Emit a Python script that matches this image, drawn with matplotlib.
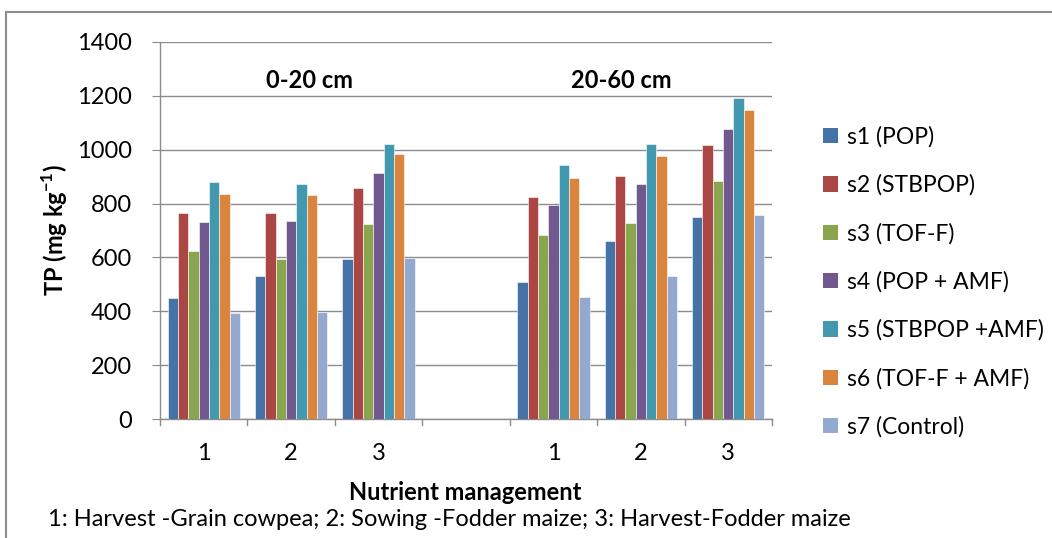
import numpy as np
import matplotlib.pyplot as plt
from matplotlib.lines import Line2D
from matplotlib.patches import Patch

plt.rcParams['font.family'] = ['Lato', 'DejaVu Sans']
plt.rcParams['mathtext.fontset'] = 'custom'
plt.rcParams['mathtext.rm'] = 'Lato'
plt.rcParams['mathtext.bf'] = 'Lato:bold'

# Category slots: three stages per depth, with one empty slot between depths
categories = ['1', '2', '3', '', '1', '2', '3']

series_names = ['s1 (POP)', 's2 (STBPOP)', 's3 (TOF-F)', 's4 (POP + AMF)',
                's5 (STBPOP +AMF)', 's6 (TOF-F + AMF)', 's7 (Control)']

s1 = [451, 532, 595, np.nan, 508, 661, 750]
s2 = [765, 765, 857, np.nan, 826, 903, 1017]
s3 = [624, 593, 724, np.nan, 682, 729, 883]
s4 = [731, 734, 912, np.nan, 793, 873, 1076]
s5 = [881, 872, 1023, np.nan, 945, 1020, 1191]
s6 = [835, 833, 985, np.nan, 896, 976, 1148]
s7 = [395, 399, 599, np.nan, 453, 532, 759]

series_values = [s1, s2, s3, s4, s5, s6, s7]
colors = ['#4572A7', '#AA4643', '#89A54E', '#71588F', '#4198AF', '#DB843D', '#93A9CF']

FS = 17

W, H = 1052, 538
fig = plt.figure(figsize=(W / 100, H / 100), dpi=100)
ax = fig.add_axes([160 / W, 1 - 419 / H, (772 - 160) / W, (419 - 42) / H])

n = len(series_values)
x = np.arange(len(categories))
bw = 0.118
for i, (vals, c) in enumerate(zip(series_values, colors)):
    offs = (i - (n - 1) / 2) * bw
    ax.bar(x + offs, vals, width=bw, color=c, edgecolor='white', linewidth=0.4,
           zorder=3, label=series_names[i])

ax.set_xlim(-0.5, len(categories) - 0.5)
ax.set_ylim(0, 1400)
ax.set_yticks(np.arange(0, 1401, 200))
ax.yaxis.grid(True, color='#8c8c8c', linewidth=1.0, zorder=0)
ax.set_axisbelow(True)

# category labels centred, tick marks on slot boundaries
ax.set_xticks(x)
ax.set_xticklabels(categories, fontsize=FS)
ax.tick_params(axis='x', length=0, pad=17)
for b in np.arange(-0.5, len(categories), 1.0):
    ax.plot([b, b], [0, -0.016], transform=ax.get_xaxis_transform(),
            color='#8c8c8c', lw=1.0, clip_on=False)
ax.tick_params(axis='y', length=6, color='#8c8c8c', labelsize=FS, pad=14)

for sp in ['top', 'right']:
    ax.spines[sp].set_visible(False)
for sp in ['left', 'bottom']:
    ax.spines[sp].set_color('#8c8c8c')
    ax.spines[sp].set_linewidth(1.0)

ax.set_ylabel(r'TP (mg kg$^{\mathbf{-1}}$)', fontsize=17, fontweight='bold')
ax.yaxis.set_label_coords((70 - 160) / (772 - 160), 0.5)

ax.text(1.21, 1258, '0-20 cm', ha='center', va='center', fontsize=FS, fontweight='bold')
ax.text(4.78, 1258, '20-60 cm', ha='center', va='center', fontsize=FS, fontweight='bold')

fig.text(465 / W, 1 - 493 / H, 'Nutrient management', ha='center', va='center',
         fontsize=FS, fontweight='bold')
fig.text(48 / W, 1 - 520 / H,
         '1: Harvest -Grain cowpea; 2: Sowing -Fodder maize; 3: Harvest-Fodder maize',
         ha='left', va='center', fontsize=FS)

handles = [Patch(facecolor=c, edgecolor='none') for c in colors]
fig.legend(handles, series_names, loc='upper left',
           bbox_to_anchor=(814 / W, 1 - 117 / H), frameon=False, fontsize=16.5,
           handlelength=0.65, handleheight=0.65, handletextpad=0.4,
           labelspacing=1.17, borderaxespad=0)

# outer frame of the chart area
fig.add_artist(Line2D([6 / W, 1.0], [1 - 12 / H, 1 - 12 / H], color='#8c8c8c', lw=1.5))
fig.add_artist(Line2D([6 / W, 6 / W], [0, 1 - 12 / H], color='#8c8c8c', lw=1.5))

fig.savefig('out.png', dpi=100)
